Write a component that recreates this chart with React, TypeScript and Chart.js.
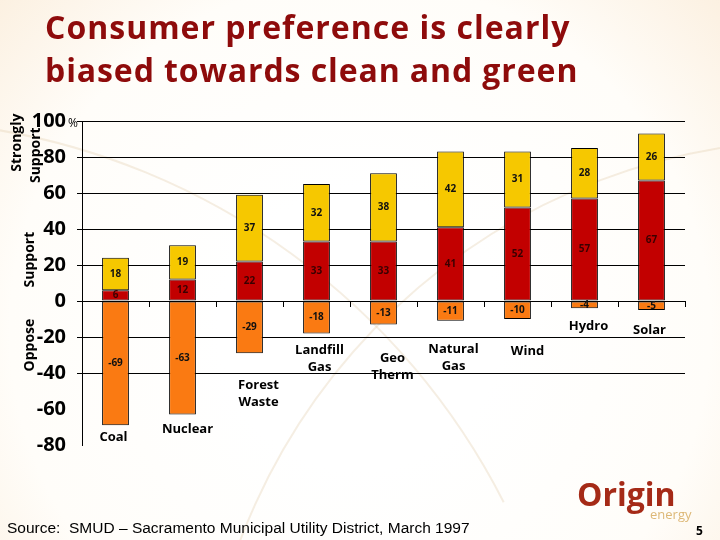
import React, { useEffect, useRef } from "react";
import { Chart, registerables } from "chart.js";

Chart.register(...registerables);

const categories: string[][] = [
  ["Coal"],
  ["Nuclear"],
  ["Forest", "Waste"],
  ["Landfill", "Gas"],
  ["Geo", "Therm"],
  ["Natural", "Gas"],
  ["Wind"],
  ["Hydro"],
  ["Solar"],
];
const oppose = [-69, -63, -29, -18, -13, -11, -10, -4, -5];
const support = [6, 12, 22, 33, 33, 41, 52, 57, 67];
const stronglySupport = [18, 19, 37, 32, 38, 42, 31, 28, 26];
const yTicks = [100, 80, 60, 40, 20, 0, -20, -40, -60, -80];

// layout nudges for hand-placed category captions (px from bar bottom / centre)
const captionNudge = [
  [-2, 12], [5, 15], [9, 32], [3, 17], [9, 34], [3, 28], [10, 32], [4, 18], [-2, 20],
];

const FONT = "'Open Sans', 'DejaVu Sans', sans-serif";
const COLORS = { oppose: "#FA7A12", support: "#C20000", strong: "#F6C800" };

const decorPlugin = {
  id: "decor",
  beforeDraw(chart: any) {
    const { ctx, width, height } = chart;
    ctx.save();
    const g = ctx.createRadialGradient(360, 330, 140, 360, 330, 560);
    g.addColorStop(0, "#FFFFFF");
    g.addColorStop(0.5, "#FFFDF9");
    g.addColorStop(1, "#FAEAD5");
    ctx.fillStyle = g;
    ctx.fillRect(0, 0, width, height);
    ctx.strokeStyle = "rgba(225,205,175,0.35)";
    ctx.lineWidth = 2;
    ctx.beginPath();
    ctx.arc(820, 760, 620, Math.PI * 1.02, Math.PI * 1.5);
    ctx.stroke();
    ctx.beginPath();
    ctx.arc(-120, 820, 700, Math.PI * 1.55, Math.PI * 1.85);
    ctx.stroke();
    ctx.restore();
  },
  afterDraw(chart: any) {
    const { ctx } = chart;
    const y = chart.scales.y;
    const x = chart.scales.x;
    ctx.save();
    // title
    ctx.fillStyle = "#8E0B0B";
    ctx.font = `bold 32px ${FONT}`;
    (ctx as any).letterSpacing = "1px";
    ctx.textAlign = "left";
    ctx.textBaseline = "alphabetic";
    ctx.fillText("Consumer preference is clearly", 45, 39);
    (ctx as any).letterSpacing = "0.9px";
    ctx.fillText("biased towards clean and green", 45, 82);
    (ctx as any).letterSpacing = "0px";

    // percent sign
    ctx.fillStyle = "#000";
    ctx.font = `12px ${FONT}`;
    ctx.textBaseline = "middle";
    ctx.textAlign = "left";
    ctx.fillText("%", 68, y.getPixelForValue(100) + 3);

    // y-axis group titles
    const rot = (text: string, cx: number, cy: number) => {
      ctx.save();
      ctx.translate(cx, cy);
      ctx.rotate(-Math.PI / 2);
      ctx.textAlign = "center";
      ctx.textBaseline = "middle";
      ctx.fillText(text, 0, 0);
      ctx.restore();
    };
    ctx.font = `bold 14px ${FONT}`;
    rot("Strongly", 17, y.getPixelForValue(88));
    rot("Support", 36, y.getPixelForValue(81));
    rot("Support", 30, y.getPixelForValue(23));
    rot("Oppose", 30, y.getPixelForValue(-24.5));

    // category captions
    ctx.font = `bold 13px ${FONT}`;
    ctx.textAlign = "center";
    ctx.textBaseline = "middle";
    ctx.fillStyle = "#000";
    categories.forEach((lines, i) => {
      const cx = x.getPixelForValue(i) + captionNudge[i][0];
      const bottom = y.getPixelForValue(oppose[i]);
      lines.forEach((ln, k) => {
        ctx.fillText(ln, cx, bottom + captionNudge[i][1] + k * 17);
      });
    });

    // value labels
    ctx.font = `bold 10px ${FONT}`;
    chart.data.datasets.forEach((ds: any, di: number) => {
      const meta = chart.getDatasetMeta(di);
      meta.data.forEach((el: any, i: number) => {
        const v = ds.data[i];
        const cy = (el.y + el.base) / 2;
        ctx.fillStyle = di === 1 ? "#3A0000" : "#111";
        ctx.fillText(String(v), el.x, cy);
      });
    });

    // footer
    ctx.textAlign = "left";
    ctx.textBaseline = "alphabetic";
    ctx.fillStyle = "#000";
    ctx.font = `15.5px 'Liberation Sans', sans-serif`;
    ctx.fillText("Source:  SMUD \u2013 Sacramento Municipal Utility District, March 1997", 7, 533);
    ctx.font = `bold 12px ${FONT}`;
    ctx.fillText("5", 696, 535);

    // logo
    ctx.fillStyle = "#A52A17";
    ctx.font = `bold 32px ${FONT}`;
    ctx.fillText("Origin", 577, 506);
    ctx.fillStyle = "#DDB877";
    ctx.font = `13px ${FONT}`;
    ctx.fillText("energy", 650, 519);
    ctx.restore();
  },
};

export default function App() {
  const ref = useRef<HTMLCanvasElement | null>(null);
  useEffect(() => {
    if (!ref.current) return;
    const mk = (label: string, data: number[], color: string) => ({
      label,
      data,
      backgroundColor: color,
      borderColor: "#000",
      borderWidth: 1,
      borderSkipped: false,
      categoryPercentage: 1,
      barPercentage: 0.4,
    });
    const chart = new Chart(ref.current, {
      type: "bar",
      data: {
        labels: categories.map((c) => c.join(" ")),
        datasets: [
          mk("Oppose", oppose, COLORS.oppose),
          mk("Support", support, COLORS.support),
          mk("Strongly Support", stronglySupport, COLORS.strong),
        ],
      },
      options: {
        responsive: false,
        animation: false,
        layout: { padding: { left: 0, right: 35, top: 121, bottom: 95 } },
        plugins: { legend: { display: false }, tooltip: { enabled: false }, title: { display: false } },
        scales: {
          x: {
            stacked: true,
            position: { y: 0 } as any,
            ticks: { display: false },
            grid: { offset: true, drawOnChartArea: false, drawTicks: true, tickLength: 5, color: "#000" },
            border: { display: true, color: "#000", width: 1 },
          },
          y: {
            stacked: true,
            min: -80,
            max: 100,
            afterFit: (s: any) => { s.width = 82; },
            afterBuildTicks: (s: any) => { s.ticks = yTicks.map((v) => ({ value: v })); },
            ticks: {
              color: "#000",
              padding: 11,
              font: { family: FONT, size: 20, weight: "bold" },
              callback: (v: any) => String(v),
            },
            grid: {
              color: (c: any) => (c.tick && c.tick.value < -40 ? "rgba(0,0,0,0)" : "#000"),
              tickLength: 5,
              lineWidth: 1,
            },
            border: { display: true, color: "#000", width: 1 },
          },
        },
      },
      plugins: [decorPlugin],
    });
    return () => chart.destroy();
  }, []);
  return (
    <div style={{ position: "fixed", left: 0, top: 0, width: 720, height: 540 }}>
      <canvas ref={ref} width={720} height={540} />
    </div>
  );
}
